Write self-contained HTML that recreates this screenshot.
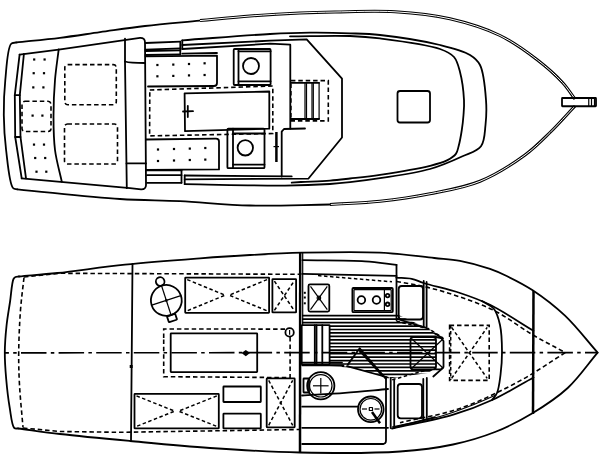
<!DOCTYPE html>
<html><head><meta charset="utf-8"><style>
html,body{margin:0;padding:0;background:#fff;width:600px;height:460px;overflow:hidden}
svg{display:block}
.s{fill:none;stroke:#000;stroke-width:1.8;stroke-linejoin:round;stroke-linecap:round}
.t{fill:none;stroke:#000;stroke-width:2.5;stroke-linejoin:round}
.w{fill:none;stroke:#fff;stroke-width:1}
.dbl{fill:none;stroke:#000;stroke-width:3}
.n{fill:none;stroke:#000;stroke-width:1.2}
.d{fill:none;stroke:#000;stroke-width:1.6;stroke-dasharray:4.5 2.9}
.dn{fill:none;stroke:#000;stroke-width:1.5;stroke-dasharray:3.5 2.5}
.cl{fill:none;stroke:#000;stroke-width:1.7;stroke-dasharray:25.5 4.3 3.5 4.3;stroke-dashoffset:21.6}
.f{fill:#000}
</style></head><body>
<svg width="600" height="460" viewBox="0 0 600 460">
<path class="s" d="M16,42.5 C30.67,40.93 45.7,39.56 60,37.8 C73.67,36.11 86.27,34.11 100,32.2 C114.56,30.18 129.23,27.86 145,26 C162.4,23.95 181.67,22.4 200,20.6"/>
<path class="dbl" d="M200,20.6 C216.67,19.07 233.32,17.27 250,16 C266.66,14.73 284.81,13.67 300,13 C312.7,12.44 321.77,12.21 335,12 C352.32,11.72 375.47,10.6 395,11.8 C413.77,12.96 432.29,14.76 450,18.8 C467.26,22.74 484.95,28.22 500,35.5 C513.87,42.21 526.54,51.57 537.5,60 C546.99,67.3 555.86,75.27 562.5,82.5 C567.71,88.17 570.83,93.5 575,99"/>
<path class="w" d="M200,20.6 C216.67,19.07 233.32,17.27 250,16 C266.66,14.73 284.81,13.67 300,13 C312.7,12.44 321.77,12.21 335,12 C352.32,11.72 375.47,10.6 395,11.8 C413.77,12.96 432.29,14.76 450,18.8 C467.26,22.74 484.95,28.22 500,35.5 C513.87,42.21 526.54,51.57 537.5,60 C546.99,67.3 555.86,75.27 562.5,82.5 C567.71,88.17 570.83,93.5 575,99"/>
<path class="dbl" d="M575,106 C566.67,114.83 558.51,124.19 550,132.5 C541.83,140.48 534.99,147.71 525,155 C512.57,164.07 495.88,174.79 480,181.25 C464.2,187.68 446.75,190.41 430,193.75 C413.41,197.06 396.7,199.46 380,201.25 C363.37,203.03 346.67,203.42 330,204.5"/>
<path class="w" d="M575,106 C566.67,114.83 558.51,124.19 550,132.5 C541.83,140.48 534.99,147.71 525,155 C512.57,164.07 495.88,174.79 480,181.25 C464.2,187.68 446.75,190.41 430,193.75 C413.41,197.06 396.7,199.46 380,201.25 C363.37,203.03 346.67,203.42 330,204.5"/>
<path class="s" d="M330,204.5 C303.33,204.83 275.77,206.13 250,205.5 C225.88,204.91 202.44,202.3 180,201.2 C159.24,200.18 142.65,200.48 120,199 C90.31,197.06 51.53,192.53 17.3,189.3"/>
<path class="s" d="M17.3,189.3 C15.87,188.87 14.27,189.42 13,188 C9.28,183.83 7.63,162.45 6.1,150 C4.64,138.14 3.93,126.67 3.8,115 C3.67,103.34 4.13,91.72 5.3,80 C6.5,68.05 7.28,48.25 11,44 C12.41,42.39 14.33,43 16,42.5"/>
<rect class="s" x="562" y="98" width="34" height="8.25" rx="0.5"/>
<path class="n" d="M588.75,98 L588.75,106.25"/>
<path class="n" d="M591.5,98 L591.5,106.25"/>
<path class="n" d="M594.5,98 L594.5,106.25"/>
<path class="s" d="M182.3,40.3 C211.53,38.2 246.42,35.23 270,34 C285.91,33.17 296.67,32.82 310,32.7 C323.33,32.58 337.63,32.86 350,33.3 C360.72,33.68 368.33,33.7 380,35 C396.61,36.85 423.56,40.92 440,45 C451.85,47.94 463.01,50.68 470,55 C474.68,57.89 477.47,60.11 480,65 C484.01,72.75 485.2,89.28 486,100 C486.68,109 486.41,117.05 485.5,125 C484.65,132.41 484.9,141.03 481,146.25 C477.16,151.39 469.65,152.93 462.5,156.25 C453.29,160.53 442.18,165.52 430,169 C415.3,173.19 394.57,175.89 380,178.2 C368.75,179.98 359,181.2 350,182.2 C342.67,183.02 338.01,183.5 330,184 C318.01,184.75 302.97,185.41 285,185.6 C258.18,185.89 218.13,184.67 184.7,184.2"/>
<path class="s" d="M290,36.3 C310,36.2 333.44,35.38 350,36 C361.73,36.44 368.33,36.91 380,38.4 C396.61,40.53 427.22,44.38 440,49 C446.58,51.38 450.67,53.17 454,57 C457.34,60.83 458.43,66.12 460,72 C462.08,79.79 463.57,92.1 464,100 C464.31,105.76 463.87,110.01 463.5,115 C463.13,120.01 462.59,124.91 461.8,130 C460.98,135.34 459.8,141.93 458.6,146.3 C457.76,149.35 457.56,151.68 455.9,153.9 C453.97,156.49 450.62,158.56 447,160.4 C442.39,162.74 437.23,164.01 430,165.8 C417.79,168.82 394.58,172.59 380,174.8 C368.76,176.5 358.99,177.47 350,178.5 C342.66,179.34 337.29,180.04 330,180.6 C321.24,181.27 310.67,181.53 301,182"/>
<path class="s" d="M291.7,182.7 L301,182"/>
<path class="s" d="M182.3,45 L270,40.7 L306.7,39.3 L342,78.7 L342,137.5 L308.3,178.7 L184.7,179.3"/>
<path class="s" d="M182.3,49 L270,43.7 L290.3,44.7 L290.3,128.5"/>
<path class="s" d="M305,128.5 L284,129 L281.7,131.7 L281.7,176.5"/>
<path class="s" d="M184.7,175.5 L291.7,176.4"/>
<path class="s" d="M182.3,40.3 L182.3,49"/>
<path class="s" d="M184.7,175.5 L184.7,184.2"/>
<path class="s" d="M145.5,43 L180.3,41.7"/>
<path class="s" d="M145.5,49.7 L180.3,48.3"/>
<path class="s" d="M145.5,51 L180.3,50.3"/>
<path class="s" d="M145.5,55 L180.3,54.3"/>
<path class="s" d="M180.3,41.7 L180.3,54.3"/>
<path class="s" d="M182.3,53.7 L217,53"/>
<path class="s" d="M147,170.4 L181.5,170.4"/>
<path class="s" d="M147,175.2 L181.5,175.2"/>
<path class="s" d="M147,182.8 L181.5,182.8"/>
<path class="s" d="M181.5,170.4 L181.5,182.8"/>
<path class="s" d="M19.6,54.6 L58.7,49.7 L140,37.8 Q145,37.7 145,42.5 L146,185 Q146,189.5 141,189.3 L130,188.2 L21.7,178.4"/>
<path class="s" d="M19.6,54.6 L14.8,95.2 L15.2,137 L21.7,178.4"/>
<path class="s" d="M23.9,54 L19.8,95.2 L20.5,137 L26,178.4"/>
<path class="s" d="M14.8,95.2 L19.8,95.2"/>
<path class="s" d="M15.2,137 L20.5,137"/>
<path class="s" d="M58.7,49.3 C57.47,59.53 55.86,69.34 55,80 C54.07,91.5 53.49,104.17 53.5,116 C53.51,127.5 53.58,138.92 55,150 C56.39,160.81 59.53,171.13 61.8,181.7"/>
<path class="s" d="M125,38.6 L125,62 L126.8,188.2"/>
<path class="s" d="M125,61.5 Q130,63 145,63"/>
<path class="s" d="M126.5,163.4 L146,163.4"/>
<rect class="d" x="64.8" y="64.6" width="51.5" height="40.2" rx="3"/>
<rect class="d" x="64.5" y="124" width="53" height="40" rx="3"/>
<rect class="d" x="22" y="101.3" width="29" height="30.2" rx="3"/>
<rect class="f" x="33.1" y="58.4" width="2.2" height="2.2"/>
<rect class="f" x="43.5" y="58.4" width="2.2" height="2.2"/>
<rect class="f" x="32.6" y="72.1" width="2.2" height="2.2"/>
<rect class="f" x="42.9" y="72.1" width="2.2" height="2.2"/>
<rect class="f" x="32.2" y="86.3" width="2.2" height="2.2"/>
<rect class="f" x="42.3" y="86.3" width="2.2" height="2.2"/>
<rect class="f" x="31.5" y="114.5" width="2.2" height="2.2"/>
<rect class="f" x="41.3" y="114.5" width="2.2" height="2.2"/>
<rect class="f" x="32.9" y="143.5" width="2.2" height="2.2"/>
<rect class="f" x="42.9" y="143.5" width="2.2" height="2.2"/>
<rect class="f" x="34.1" y="156.9" width="2.2" height="2.2"/>
<rect class="f" x="44.1" y="156.9" width="2.2" height="2.2"/>
<rect class="f" x="35.4" y="170.6" width="2.2" height="2.2"/>
<rect class="f" x="45.2" y="170.6" width="2.2" height="2.2"/>
<path class="s" d="M145.5,56.3 L217,55.6 L217,83 Q217,86 214,86 L148,86.5"/>
<rect class="f" x="156.3" y="63.9" width="2.2" height="2.2"/>
<rect class="f" x="172.2" y="63.5" width="2.2" height="2.2"/>
<rect class="f" x="187.9" y="62.9" width="2.2" height="2.2"/>
<rect class="f" x="203.5" y="62.2" width="2.2" height="2.2"/>
<rect class="f" x="156.3" y="75.2" width="2.2" height="2.2"/>
<rect class="f" x="172.2" y="74.8" width="2.2" height="2.2"/>
<rect class="f" x="187.9" y="74.3" width="2.2" height="2.2"/>
<rect class="f" x="203.5" y="73.9" width="2.2" height="2.2"/>
<path class="s" d="M146,139.5 L216,138.7 Q219,138.7 219,141.5 L219,169.4 L146,169.8"/>
<rect class="f" x="156.9" y="148.4" width="2.2" height="2.2"/>
<rect class="f" x="172.9" y="147.9" width="2.2" height="2.2"/>
<rect class="f" x="188.7" y="147.5" width="2.2" height="2.2"/>
<rect class="f" x="204.2" y="146.9" width="2.2" height="2.2"/>
<rect class="f" x="156.9" y="159.9" width="2.2" height="2.2"/>
<rect class="f" x="172.9" y="159.4" width="2.2" height="2.2"/>
<rect class="f" x="188.7" y="158.9" width="2.2" height="2.2"/>
<rect class="f" x="204.2" y="158.5" width="2.2" height="2.2"/>
<path class="d" d="M149.8,90 L272.8,86 L272.8,133.5 L149.6,135.9Z"/>
<path class="s" d="M184.6,93.3 L269.3,91.5 L269.3,128.7 L185,131.1Z"/>
<path class="s" d="M187.8,106 L187.8,117"/>
<path class="s" d="M183,111.5 L193,111.2"/>
<rect class="s" x="233.7" y="49" width="36.9" height="36" rx="1"/>
<path class="s" d="M238.5,49 L238.5,85"/>
<path class="s" d="M238.5,51.3 L270.6,51.3"/>
<path class="s" d="M238.5,81.3 L270.6,81.3"/>
<circle class="s" cx="251" cy="66" r="8"/>
<rect class="s" x="227.4" y="128.7" width="37.1" height="39.5" rx="1"/>
<path class="s" d="M233,128.7 L233,168.2"/>
<path class="s" d="M233,133.5 L264.5,133.5"/>
<path class="s" d="M233,164.6 L264.5,164.6"/>
<circle class="s" cx="245.3" cy="147.8" r="7.7"/>
<path class="t" d="M276.4,132 L276.4,162"/>
<path class="n" d="M273.5,146.6 L279,146.6"/>
<path class="d" d="M290.9,80.6 L328.3,80.6 L328.3,120.9 L290.9,120.9Z"/>
<path class="s" d="M290.9,82.8 L319.1,82.8"/>
<path class="s" d="M290.9,119 L319.1,119"/>
<path class="n" d="M305,82.8 L305,119"/>
<path class="n" d="M306.5,82.8 L306.5,119"/>
<path class="n" d="M312,82.8 L312,119"/>
<path class="n" d="M313.3,82.8 L313.3,119"/>
<path class="n" d="M319.1,82.8 L319.1,119"/>
<rect class="s" x="397.5" y="91" width="32.5" height="31.5" rx="2.5"/>
<path class="s" d="M19,276.5 C31.83,275.33 42.89,274.57 57.5,273 C76.88,270.91 101.88,267.01 125,264.6 C149.32,262.07 177.52,259.99 200,258.3 C218.34,256.92 233.16,255.93 250,255 C267.16,254.05 282.91,253.13 302,252.7 C325.37,252.17 356.37,251.44 380,252.6 C399.76,253.57 419.55,256.46 434.3,258 C444.45,259.06 451.17,259.14 460,260.8 C469.68,262.62 481.54,265.97 490,268.9 C496.47,271.14 500.62,273.05 506.7,276 C514.41,279.74 523.49,284.19 532.3,290 C542.81,296.94 554.54,305.82 565,315.7 C576.38,326.45 586.73,340.3 597.6,352.6"/>
<path class="s" d="M597.6,352.6 C587.63,364.4 578.81,377.75 567.7,388 C556.89,397.97 544.31,406.09 532,413.5 C520.05,420.69 507.96,426.88 495,432 C481.66,437.27 467.95,441.31 453,444.5 C436.49,448.02 420.5,450.05 400,451.5 C371.96,453.48 332.45,453.15 300,452.5 C269.2,451.88 239.1,450 210,448 C182.53,446.11 155.77,443.42 130,441 C105.88,438.74 80.35,436.35 60,434 C44.21,432.18 32,430.33 18,428.5"/>
<path class="s" d="M18,428.5 C16.77,428.33 15.36,428.98 14.3,428 C11.75,425.66 10.9,414.54 9.6,407 C8.11,398.37 7,388.23 6.2,379 C5.42,370.03 4.75,361.25 4.8,352.4 C4.85,343.58 5.6,334.57 6.5,326 C7.36,317.79 8.82,309.91 10,302 C11.15,294.25 11.78,282.4 13.5,279 C14.1,277.81 14.66,277.42 15.5,277 C16.44,276.53 17.83,276.67 19,276.5"/>
<path class="d" d="M24,277.5 C22.83,288.33 21.37,298.39 20.5,310 C19.51,323.32 18.81,339.72 18.7,353 C18.6,364.45 18.89,373.59 19.5,385 C20.21,398.17 21.83,413.33 23,427.5"/>
<path class="d" d="M24,277 L60,273.3 L299,274.3"/>
<path class="d" d="M23,428 L60,431.5 L120,432.3 L299,429.5"/>
<path class="cl" d="M5,352.8 L597,352.6"/>
<path class="s" d="M132.5,263.8 L131,441"/>
<rect class="f" x="129.7" y="365" width="3" height="3"/>
<g transform="rotate(-18 166.3 300.4)">
<circle class="s" cx="166.3" cy="300.4" r="15.4"/>
<path class="n" d="M151,300.4 L181.6,300.4"/>
<path class="n" d="M166.3,285 L166.3,315.8"/>
<circle class="s" cx="166.3" cy="280.6" r="4.3"/>
<rect class="s" x="162" y="315.8" width="8.6" height="6.2" rx="0.5"/>
</g>
<rect class="f" x="165.1" y="299.2" width="2.4" height="2.4"/>
<rect class="s" x="185.2" y="277.6" width="83.9" height="35.2" rx="0.5"/>
<path class="dn" d="M187.2,279.6 L225.15,295.2 L187.2,310.8"/>
<path class="dn" d="M267.1,279.6 L229.15,295.2 L267.1,310.8"/>
<rect class="s" x="272.4" y="279.1" width="23.7" height="33.3" rx="0.5"/>
<path class="dn" d="M274.4,281.1 L284.25,295.75 L294.1,310.4"/>
<path class="dn" d="M274.4,310.4 L284.25,295.75 L294.1,281.1"/>
<rect class="s" x="134.5" y="393.9" width="84.3" height="34.5" rx="0.5"/>
<path class="dn" d="M136.5,395.9 L174.65,411.15 L136.5,426.4"/>
<path class="dn" d="M216.8,395.9 L178.65,411.15 L216.8,426.4"/>
<rect class="s" x="266.7" y="378.4" width="28" height="48.9" rx="0.5"/>
<path class="dn" d="M268.7,380.4 L280.7,402.85 L292.7,425.3"/>
<path class="dn" d="M268.7,425.3 L280.7,402.85 L292.7,380.4"/>
<rect class="d" x="449.6" y="325.4" width="39.6" height="55" rx="0"/>
<path class="dn" d="M451.6,327.4 L487.2,378.4"/>
<path class="dn" d="M451.6,378.4 L487.2,327.4"/>
<path class="d" d="M163.7,338 L163.7,329 L288,329.1"/>
<path class="d" d="M290.1,337 L290.1,377.6 L163.7,376.7 L163.7,338"/>
<circle class="s" cx="289.6" cy="332.4" r="4.2"/>
<path class="n" d="M289.6,330 L289.6,334.8"/>
<rect class="s" x="170.7" y="333.3" width="86.5" height="38.8" rx="0.5"/>
<path class="f" d="M241.5,353.1 L245.8,350 L250,353.1 L245.8,356.2Z"/>
<rect class="s" x="223.4" y="386.5" width="37.4" height="15.5" rx="0.5"/>
<rect class="s" x="223.4" y="413.7" width="37.4" height="14.7" rx="0.5"/>
<path class="t" d="M300.2,252 L300,452.5"/>
<path class="n" d="M302.7,252 L302.7,325"/>
<path class="s" d="M302.5,260.2 C323.33,260.57 347.72,260.19 365,261.3 C377.3,262.09 386,263.63 396.5,264.8"/>
<path class="s" d="M396.5,264.8 L396.5,320"/>
<path class="s" d="M302.2,273.9 L396.5,275.9"/>
<path class="dn" d="M318,275.6 L392,281.8"/>
<rect class="s" x="308.5" y="284.4" width="20.8" height="27.2" rx="1.5"/>
<path class="n" d="M310.5,286.4 L327.3,309.6"/>
<path class="n" d="M310.5,309.6 L327.3,286.4"/>
<circle class="n" cx="318.9" cy="298" r="1.8"/>
<rect class="f" x="303.8" y="291.8" width="2" height="2"/>
<rect class="f" x="303.8" y="296.5" width="2" height="2"/>
<rect class="f" x="303.8" y="302.3" width="2" height="2"/>
<rect class="s" x="352.4" y="288" width="40.4" height="24.2" rx="1"/>
<rect class="n" x="354" y="289.6" width="37.2" height="21" rx="0.5"/>
<path class="n" d="M384.4,289.6 L384.4,310.6"/>
<circle class="s" cx="361.4" cy="300" r="3.8"/>
<circle class="s" cx="376.5" cy="300" r="3.8"/>
<circle class="s" cx="387.6" cy="295.6" r="1.8"/>
<circle class="s" cx="387.6" cy="304.3" r="1.8"/>
<rect class="s" x="398.7" y="286" width="24.3" height="33.5" rx="3"/>
<path class="s" d="M423.7,281 L423.7,327"/>
<path class="s" d="M426.6,282 L426.6,327"/>
<path class="s" d="M397.4,319 L425.6,327.6"/>
<path class="s" d="M396.3,277.6 C401.43,278 406.97,277.79 411.7,278.8 C415.96,279.71 418.45,281.41 423.5,283 C432.28,285.76 448.53,289.18 460,293 C470.59,296.52 479.31,299.54 490,304.8 C503.41,311.39 519,322.13 533.5,330.8"/>
<path class="d" d="M396.5,281.5 C406.93,283.47 417.36,284.87 427.8,287.4 C438.52,290 449.13,293.21 460,297 C471.51,301.01 483.37,305.06 495,311 C507.7,317.48 520.74,327.8 533,335 C544.1,341.52 554.53,346.73 565.3,352.6"/>
<path class="d" d="M565.3,352.6 C550.13,362.03 536.3,372.02 519.8,380.9 C501.51,390.74 480.3,401.39 460,408.4 C440.35,415.19 420,417.93 400,422.7"/>
<path class="s" d="M533.5,377.5 C520.1,384.83 506.9,393.23 493.3,399.5 C480.16,405.56 468.23,410.21 453.3,414.7 C435.21,420.14 412.43,423.9 392,428.5"/>
<path class="n" d="M496,395 C487.33,398.67 479.03,402.51 470,406 C460.41,409.7 451.28,413.31 440,416.5 C425.98,420.47 408,423.5 392,427"/>
<path class="t" d="M533.5,291 L533,414"/>
<path class="s" d="M482,301 C486,303.67 491.04,305.26 494,309 C497.23,313.07 498.65,318.86 500,325 C501.7,332.73 501.96,343.36 502,352 C502.04,359.97 501.43,367.83 500.5,375 C499.67,381.4 498.92,388.54 497,393 C495.69,396.06 493.67,397.67 492,400"/>
<clipPath id="gc"><path d="M302,314 L396.5,314 L431,330 L436,335 L436,368 L428,373 L392,378 L355,368 L329.5,366 L329.5,325 L302,325 Z"/></clipPath>
<path d="M300,315.7 L440,315.7 M300,319.15 L440,319.15 M300,322.6 L440,322.6 M300,326.05 L440,326.05 M300,329.5 L440,329.5 M300,332.95 L440,332.95 M300,336.4 L440,336.4 M300,339.85 L440,339.85 M300,343.3 L440,343.3 M300,346.75 L440,346.75 M300,350.2 L440,350.2 M300,353.65 L440,353.65 M300,357.1 L440,357.1 M300,360.55 L440,360.55 M300,364 L440,364 M300,367.45 L440,367.45 M300,370.9 L440,370.9 M300,374.35 L440,374.35 M300,377.8 L440,377.8 " clip-path="url(#gc)" style="fill:none;stroke:#000;stroke-width:1.7"/>
<rect class="s" x="301.7" y="325.2" width="27.9" height="39.1" rx="0.5"/>
<path class="s" d="M314.8,325.2 L314.8,364.3"/>
<path class="s" d="M316.5,325.2 L316.5,364.3"/>
<path class="s" d="M322.3,325.2 L322.3,364.3"/>
<path class="s" d="M302.2,362.6 L342,362.6"/>
<path class="s" d="M302.2,365.3 L342,365.3"/>
<rect class="s" x="410.5" y="337" width="25.5" height="32.4" rx="3"/>
<path class="s" d="M436,337 L441,338 L443.5,341 L443.5,367 L441,369.4 L436,369.4"/>
<path class="n" d="M412,339 L443,368"/>
<path class="n" d="M412,368 L443,339"/>
<path class="s" d="M434.4,333.2 L443,338.6"/>
<path class="s" d="M443,367.8 L433.3,376.5"/>
<path class="s" d="M347.8,364.6 L359.7,348.3 L385.7,378.7"/>
<path class="t" d="M359.7,350.5 L383.5,376.5"/>
<path class="dn" d="M392.2,379.8 L426.8,370"/>
<path class="dn" d="M396.5,321.3 L429,328.8 L443,338"/>
<path class="dn" d="M450.7,325 L450.7,380"/>
<rect class="f" x="341.75" y="364.55" width="2.5" height="2.5"/>
<rect class="s" x="303.5" y="378.5" width="5.5" height="14" rx="0.5"/>
<circle class="s" cx="320.8" cy="385.8" r="13.6"/>
<circle class="n" cx="320.8" cy="385.8" r="11.2"/>
<path class="n" d="M313,385.8 L328.6,385.8"/>
<path class="n" d="M320.8,378 L320.8,393.6"/>
<path class="s" d="M302,395.5 C316.33,394.6 330.67,393.88 345,392.8 C359.34,391.72 373.67,390.27 388,389"/>
<path class="s" d="M302.2,406.7 L358,406.7"/>
<path class="s" d="M302.2,427.8 L388,427.8"/>
<path class="s" d="M302.2,444 L383,444"/>
<path class="s" d="M386,377 L386,440.5 Q386,444 382.5,444"/>
<circle class="s" cx="370.8" cy="409.3" r="12.8"/>
<circle class="n" cx="370.8" cy="409.3" r="10.8"/>
<rect class="n" x="369.3" y="407.5" width="3.2" height="3" rx="0.3"/>
<path class="n" d="M362,409 L367,409"/>
<path class="n" d="M374.5,409 L379.5,409"/>
<path class="t" d="M372,412 L380,423.3"/>
<path class="s" d="M347,366.2 L388,377.5"/>
<path class="s" d="M390.7,377.8 L390.7,428"/>
<path class="s" d="M394.2,380 L394.2,427.7"/>
<rect class="s" x="397.7" y="384" width="24.3" height="34.3" rx="3"/>
<path class="s" d="M394,427.7 L435,417.2"/>
<path class="s" d="M423.3,379 L423.3,420"/>
<path class="s" d="M426.8,378 L426.8,418"/>
</svg>
</body></html>
